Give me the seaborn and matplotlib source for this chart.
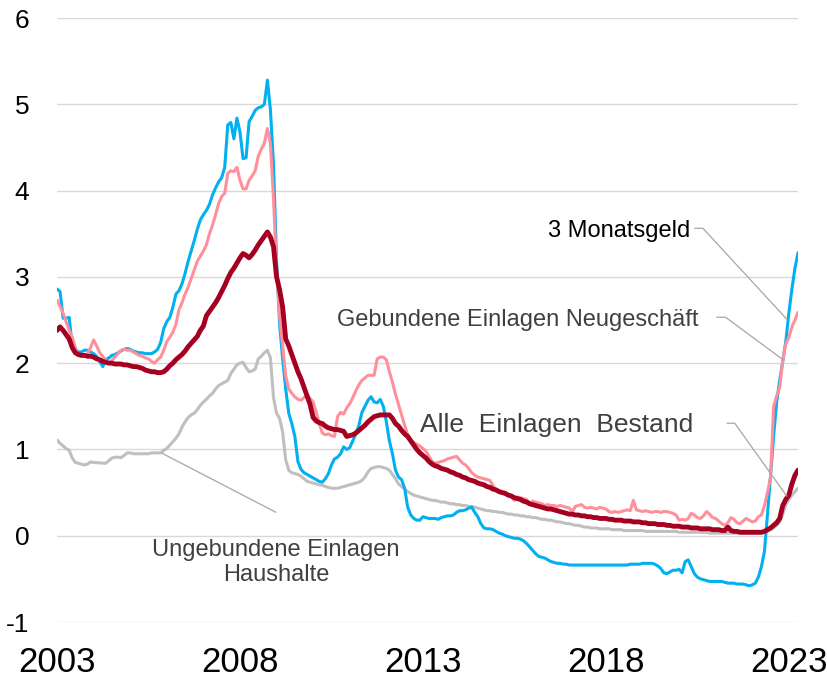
import numpy as np
import pandas as pd
import matplotlib
matplotlib.use("Agg")
import matplotlib.pyplot as plt
import seaborn as sns

# Monthly interest rates in percent, January 2003 to April 2023
geldmarkt_3m = [
    2.86, 2.83, 2.52, 2.52, 2.53, 2.19, 2.16, 2.13, 2.13, 2.15, 2.15, 2.13,   # 2003
    2.11, 2.08, 2.02, 1.96, 2.04, 2.06, 2.09, 2.10, 2.12, 2.14, 2.16, 2.17,   # 2004
    2.16, 2.14, 2.13, 2.12, 2.12, 2.11, 2.11, 2.11, 2.13, 2.16, 2.24, 2.40,   # 2005
    2.48, 2.53, 2.65, 2.80, 2.84, 2.92, 3.04, 3.18, 3.30, 3.42, 3.55, 3.66,   # 2006
    3.72, 3.77, 3.84, 3.95, 4.03, 4.10, 4.15, 4.27, 4.76, 4.79, 4.60, 4.84,   # 2007
    4.68, 4.37, 4.38, 4.80, 4.86, 4.93, 4.96, 4.97, 5.00, 5.28, 4.93, 4.30,   # 2008
    3.20, 2.45, 2.05, 1.70, 1.42, 1.30, 1.15, 0.86, 0.77, 0.73, 0.71, 0.69,   # 2009
    0.67, 0.65, 0.63, 0.62, 0.66, 0.72, 0.82, 0.89, 0.91, 0.95, 1.03, 1.00,   # 2010
    1.02, 1.10, 1.18, 1.28, 1.43, 1.50, 1.57, 1.61, 1.55, 1.54, 1.58, 1.50,   # 2011
    1.32, 1.10, 0.95, 0.76, 0.68, 0.65, 0.55, 0.33, 0.24, 0.20, 0.18, 0.18,   # 2012
    0.22, 0.21, 0.20, 0.20, 0.20, 0.19, 0.21, 0.22, 0.23, 0.23, 0.24, 0.27,   # 2013
    0.29, 0.29, 0.30, 0.32, 0.33, 0.27, 0.22, 0.14, 0.09, 0.08, 0.08, 0.07,   # 2014
    0.05, 0.03, 0.02, 0.00, -0.01, -0.02, -0.03, -0.03, -0.04, -0.06, -0.09, -0.13,   # 2015
    -0.17, -0.21, -0.24, -0.25, -0.26, -0.28, -0.30, -0.31, -0.32, -0.32, -0.33, -0.33,   # 2016
    -0.34, -0.34, -0.34, -0.34, -0.34, -0.34, -0.34, -0.34, -0.34, -0.34, -0.34, -0.34,   # 2017
    -0.34, -0.34, -0.34, -0.34, -0.34, -0.34, -0.34, -0.34, -0.33, -0.33, -0.33, -0.33,   # 2018
    -0.32, -0.32, -0.32, -0.32, -0.33, -0.35, -0.38, -0.43, -0.44, -0.42, -0.40, -0.40,   # 2019
    -0.39, -0.43, -0.30, -0.28, -0.36, -0.44, -0.48, -0.50, -0.51, -0.52, -0.53, -0.53,   # 2020
    -0.53, -0.53, -0.53, -0.54, -0.55, -0.55, -0.55, -0.56, -0.56, -0.56, -0.57, -0.58,   # 2021
    -0.57, -0.55, -0.48, -0.36, -0.18, 0.25, 0.70, 1.15, 1.55, 1.80, 2.02, 2.25,   # 2022
    2.58, 2.86, 3.10, 3.28,                                                      # 2023
]

gebunden_neu = [
    2.73, 2.66, 2.58, 2.48, 2.38, 2.30, 2.18, 2.09, 2.08, 2.09, 2.11, 2.18,   # 2003
    2.27, 2.20, 2.12, 2.08, 2.03, 2.00, 2.03, 2.07, 2.11, 2.15, 2.16, 2.15,   # 2004
    2.15, 2.13, 2.11, 2.09, 2.08, 2.06, 2.05, 2.02, 2.00, 2.04, 2.07, 2.15,   # 2005
    2.25, 2.30, 2.36, 2.45, 2.62, 2.70, 2.80, 2.88, 2.98, 3.08, 3.18, 3.24,   # 2006
    3.30, 3.37, 3.50, 3.60, 3.72, 3.85, 3.93, 3.97, 4.20, 4.23, 4.22, 4.27,   # 2007
    4.12, 4.02, 4.02, 4.12, 4.17, 4.23, 4.40, 4.48, 4.55, 4.72, 4.54, 3.90,   # 2008
    3.10, 2.55, 2.20, 1.85, 1.70, 1.65, 1.61, 1.58, 1.57, 1.60, 1.63, 1.59,   # 2009
    1.55, 1.43, 1.30, 1.19, 1.17, 1.18, 1.16, 1.15, 1.38, 1.43, 1.41, 1.48,   # 2010
    1.53, 1.60, 1.68, 1.75, 1.80, 1.83, 1.86, 1.86, 1.86, 2.05, 2.07, 2.07,   # 2011
    2.04, 1.90, 1.78, 1.64, 1.52, 1.40, 1.28, 1.17, 1.11, 1.08, 1.06, 1.04,   # 2012
    1.01, 0.98, 0.92, 0.86, 0.84, 0.85, 0.86, 0.87, 0.89, 0.90, 0.91, 0.92,   # 2013
    0.88, 0.84, 0.82, 0.78, 0.73, 0.70, 0.68, 0.67, 0.66, 0.65, 0.64, 0.58,   # 2014
    0.53, 0.51, 0.50, 0.49, 0.48, 0.45, 0.41, 0.45, 0.44, 0.43, 0.42, 0.37,   # 2015
    0.40, 0.39, 0.38, 0.37, 0.35, 0.36, 0.35, 0.35, 0.34, 0.35, 0.34, 0.33,   # 2016
    0.32, 0.28, 0.34, 0.35, 0.36, 0.33, 0.32, 0.33, 0.32, 0.31, 0.33, 0.32,   # 2017
    0.31, 0.28, 0.27, 0.28, 0.27, 0.28, 0.29, 0.30, 0.29, 0.41, 0.30, 0.29,   # 2018
    0.28, 0.29, 0.28, 0.27, 0.28, 0.28, 0.27, 0.28, 0.28, 0.27, 0.26, 0.24,   # 2019
    0.18, 0.19, 0.18, 0.20, 0.26, 0.24, 0.21, 0.20, 0.23, 0.28, 0.25, 0.21,   # 2020
    0.20, 0.17, 0.14, 0.12, 0.15, 0.21, 0.19, 0.15, 0.14, 0.17, 0.20, 0.18,   # 2021
    0.16, 0.17, 0.22, 0.24, 0.35, 0.50, 0.68, 1.50, 1.62, 1.72, 2.03, 2.22,   # 2022
    2.30, 2.42, 2.50, 2.59,                                                      # 2023
]

einlagen_bestand = [
    2.38, 2.42, 2.38, 2.33, 2.28, 2.18, 2.12, 2.10, 2.09, 2.09, 2.08, 2.08,   # 2003
    2.07, 2.05, 2.04, 2.02, 2.01, 2.00, 2.00, 1.99, 1.99, 1.99, 1.98, 1.98,   # 2004
    1.97, 1.96, 1.96, 1.95, 1.94, 1.92, 1.91, 1.90, 1.90, 1.89, 1.89, 1.90,   # 2005
    1.93, 1.97, 2.00, 2.04, 2.07, 2.10, 2.14, 2.19, 2.23, 2.27, 2.31, 2.38,   # 2006
    2.43, 2.55, 2.60, 2.65, 2.70, 2.76, 2.83, 2.90, 2.98, 3.05, 3.10, 3.16,   # 2007
    3.22, 3.27, 3.25, 3.22, 3.26, 3.31, 3.37, 3.42, 3.47, 3.52, 3.46, 3.35,   # 2008
    3.00, 2.85, 2.65, 2.28, 2.20, 2.10, 2.00, 1.90, 1.82, 1.72, 1.62, 1.52,   # 2009
    1.37, 1.33, 1.31, 1.30, 1.27, 1.25, 1.24, 1.23, 1.23, 1.22, 1.21, 1.15,   # 2010
    1.16, 1.17, 1.19, 1.22, 1.25, 1.28, 1.32, 1.35, 1.38, 1.39, 1.40, 1.40,   # 2011
    1.40, 1.40, 1.36, 1.30, 1.27, 1.22, 1.18, 1.15, 1.10, 1.05, 1.00, 0.96,   # 2012
    0.93, 0.90, 0.86, 0.83, 0.81, 0.80, 0.78, 0.77, 0.76, 0.74, 0.73, 0.71,   # 2013
    0.70, 0.68, 0.67, 0.65, 0.64, 0.63, 0.61, 0.60, 0.59, 0.57, 0.56, 0.54,   # 2014
    0.53, 0.51, 0.50, 0.49, 0.47, 0.46, 0.44, 0.43, 0.42, 0.40, 0.39, 0.37,   # 2015
    0.36, 0.35, 0.34, 0.33, 0.32, 0.31, 0.31, 0.30, 0.29, 0.28, 0.27, 0.26,   # 2016
    0.25, 0.25, 0.24, 0.24, 0.23, 0.23, 0.22, 0.22, 0.21, 0.21, 0.20, 0.20,   # 2017
    0.20, 0.19, 0.19, 0.18, 0.18, 0.18, 0.17, 0.17, 0.17, 0.16, 0.16, 0.16,   # 2018
    0.15, 0.15, 0.14, 0.14, 0.14, 0.13, 0.13, 0.13, 0.12, 0.12, 0.11, 0.11,   # 2019
    0.11, 0.10, 0.10, 0.10, 0.09, 0.09, 0.09, 0.08, 0.08, 0.08, 0.08, 0.07,   # 2020
    0.07, 0.07, 0.06, 0.06, 0.10, 0.06, 0.05, 0.05, 0.04, 0.04, 0.04, 0.04,   # 2021
    0.04, 0.04, 0.04, 0.04, 0.05, 0.07, 0.09, 0.12, 0.15, 0.20, 0.35, 0.42,   # 2022
    0.47, 0.60, 0.70, 0.76,                                                      # 2023
]

ungebunden_hh = [
    1.11, 1.07, 1.04, 1.01, 0.99, 0.90, 0.85, 0.84, 0.83, 0.82, 0.83, 0.855,  # 2003
    0.85, 0.845, 0.845, 0.84, 0.84, 0.87, 0.90, 0.91, 0.91, 0.905, 0.93, 0.96,  # 2004
    0.96, 0.95, 0.95, 0.95, 0.95, 0.95, 0.95, 0.96, 0.96, 0.96, 0.96, 0.99,   # 2005
    1.01, 1.05, 1.09, 1.13, 1.18, 1.26, 1.32, 1.37, 1.40, 1.42, 1.46, 1.51,   # 2006
    1.55, 1.58, 1.62, 1.65, 1.70, 1.74, 1.76, 1.78, 1.80, 1.88, 1.93, 1.98,   # 2007
    2.00, 2.01, 1.95, 1.90, 1.91, 1.93, 2.05, 2.08, 2.12, 2.15, 2.06, 1.60,   # 2008
    1.42, 1.36, 1.20, 0.88, 0.76, 0.73, 0.72, 0.71, 0.69, 0.66, 0.63, 0.62,   # 2009
    0.61, 0.60, 0.59, 0.585, 0.57, 0.56, 0.55, 0.55, 0.55, 0.56, 0.57, 0.58,  # 2010
    0.59, 0.60, 0.61, 0.62, 0.64, 0.68, 0.74, 0.78, 0.79, 0.80, 0.80, 0.79,   # 2011
    0.78, 0.76, 0.71, 0.66, 0.60, 0.57, 0.54, 0.51, 0.49, 0.47, 0.46, 0.45,   # 2012
    0.44, 0.43, 0.42, 0.41, 0.41, 0.40, 0.39, 0.39, 0.38, 0.37, 0.37, 0.36,   # 2013
    0.36, 0.35, 0.35, 0.34, 0.34, 0.33, 0.32, 0.31, 0.30, 0.29, 0.29, 0.28,   # 2014
    0.28, 0.27, 0.27, 0.26, 0.25, 0.25, 0.24, 0.24, 0.23, 0.23, 0.22, 0.22,   # 2015
    0.21, 0.21, 0.20, 0.19, 0.19, 0.18, 0.18, 0.17, 0.16, 0.16, 0.15, 0.14,   # 2016
    0.14, 0.13, 0.12, 0.12, 0.11, 0.10, 0.10, 0.09, 0.09, 0.09, 0.08, 0.08,   # 2017
    0.08, 0.08, 0.07, 0.07, 0.07, 0.07, 0.06, 0.06, 0.06, 0.06, 0.06, 0.06,   # 2018
    0.06, 0.05, 0.05, 0.05, 0.05, 0.05, 0.05, 0.05, 0.05, 0.05, 0.05, 0.05,   # 2019
    0.04, 0.04, 0.04, 0.04, 0.04, 0.04, 0.04, 0.04, 0.04, 0.04, 0.03, 0.03,   # 2020
    0.03, 0.03, 0.03, 0.03, 0.03, 0.03, 0.03, 0.03, 0.03, 0.03, 0.03, 0.03,   # 2021
    0.03, 0.03, 0.03, 0.03, 0.04, 0.05, 0.07, 0.09, 0.12, 0.16, 0.25, 0.36,   # 2022
    0.42, 0.47, 0.51, 0.55,                                                      # 2023
]

year_ticks = [2003, 2008, 2013, 2018, 2023]
y_ticks = [-1, 0, 1, 2, 3, 4, 5, 6]

n = len(geldmarkt_3m)
zeit = 2003 + np.arange(n) / 12.0

df = pd.DataFrame({
    "Zeit": np.tile(zeit, 4),
    "Zins": geldmarkt_3m + gebunden_neu + einlagen_bestand + ungebunden_hh,
    "Reihe": (["3 Monatsgeld"] * n + ["Gebundene Einlagen Neugeschäft"] * n
              + ["Alle Einlagen Bestand"] * n + ["Ungebundene Einlagen Haushalte"] * n),
})

sns.set_style("white")
plt.rcParams["font.family"] = ["Liberation Sans", "DejaVu Sans"]

fig = plt.figure(figsize=(8.27, 6.81), dpi=100)
ax = fig.add_axes([57 / 827, 59 / 681, 741 / 827, 604 / 681])

styles = [
    ("Ungebundene Einlagen Haushalte", "#BFBFBF", 2.2),
    ("3 Monatsgeld", "#00B0F0", 2.2),
    ("Gebundene Einlagen Neugeschäft", "#FF8F9B", 2.2),
    ("Alle Einlagen Bestand", "#A50021", 3.5),
]
for name, color, lw in styles:
    sns.lineplot(data=df[df["Reihe"] == name], x="Zeit", y="Zins", color=color,
                 linewidth=lw, ax=ax, legend=False, solid_capstyle="round")

ax.set_xlim(zeit[0], zeit[-1])
ax.set_ylim(-1, 6)
ax.set_xticks(year_ticks)
ax.set_xticklabels([str(y) for y in year_ticks], fontsize=25)
ax.set_yticks(y_ticks)
ax.set_yticklabels([str(v) for v in y_ticks], fontsize=19)
ax.tick_params(axis="x", length=0, pad=17, colors="black")
ax.tick_params(axis="y", length=0, pad=20, colors="black")
ax.set_xlabel("")
ax.set_ylabel("")
ax.yaxis.grid(True, color="#D9D9D9", linewidth=1.0)
ax.xaxis.grid(False)
ax.set_axisbelow(True)
for s in ax.spines.values():
    s.set_visible(False)

# labels with leader lines
lead = dict(color="#A6A6A6", linewidth=0.9, clip_on=False, zorder=5)
ax.plot([2020.43, 2020.65, 2022.945], [3.563, 3.563, 2.509], **lead)
ax.plot([2021.03, 2021.27, 2022.86], [2.532, 2.532, 2.034], **lead)
ax.plot([2021.31, 2021.52, 2022.945], [1.304, 1.304, 0.458], **lead)
ax.plot([2005.87, 2008.98], [0.956, 0.272], **lead)

ax.text(2020.30, 3.53, "3 Monatsgeld", ha="right", va="center",
        fontsize=17, color="black")
ax.text(2020.52, 2.50, "Gebundene Einlagen Neugeschäft", ha="right", va="center",
        fontsize=17, color="#404040")
ax.text(2020.38, 1.28, "Alle  Einlagen  Bestand", ha="right", va="center",
        fontsize=19, color="#404040")
ax.text(2008.98, -0.31, "Ungebundene Einlagen\nHaushalte", ha="center", va="center",
        multialignment="center", fontsize=17, color="#404040", linespacing=1.15)

fig.savefig("out.png", dpi=100)
